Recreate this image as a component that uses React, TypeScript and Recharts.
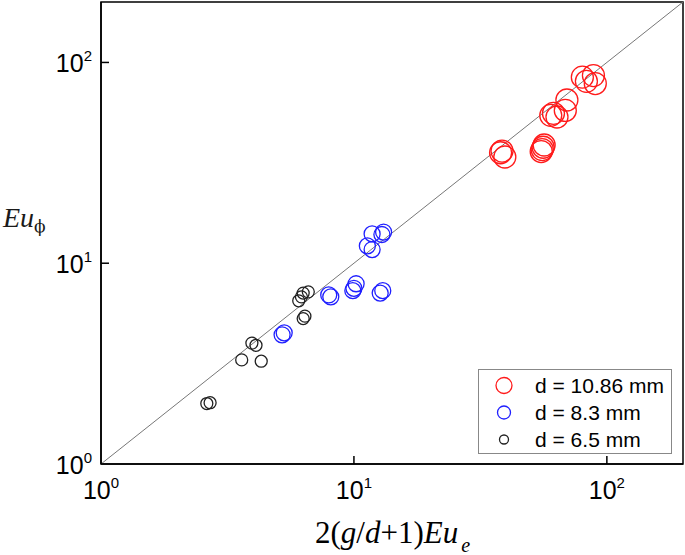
import { ScatterChart, Scatter, XAxis, YAxis, ReferenceLine, ReferenceArea } from 'recharts';

// [x, y] pairs, one array per particle diameter
const d1086: [number, number][] = [
  [38.0, 35.5], [39.5, 33.8], [38.5, 36.2],
  [56.5, 38.8], [56.0, 37.8], [55.5, 36.8], [55.0, 36.0],
  [60.0, 54.5], [61.5, 55.8], [63.5, 53.5], [68.5, 57.7], [69.5, 65.0],
  [80.0, 84.5], [83.0, 80.5], [88.5, 86.0], [90.0, 78.5],
];
const d83: [number, number][] = [
  [5.2, 4.4], [5.3, 4.5],
  [7.95, 6.95], [8.1, 6.8],
  [9.9, 7.3], [10.0, 7.5], [10.2, 7.9],
  [12.7, 7.1], [13.0, 7.3],
  [11.3, 12.2], [11.8, 11.7], [11.8, 14.0], [12.9, 13.9], [13.1, 14.3],
];
const d65: [number, number][] = [
  [2.62, 2.0], [2.7, 2.02],
  [3.6, 3.3], [4.3, 3.25], [3.95, 4.0], [4.1, 3.9],
  [6.3, 5.3], [6.4, 5.45],
  [6.05, 6.5], [6.2, 6.8], [6.3, 7.1], [6.6, 7.2],
];

const seriesNames = ['d = 10.86 mm', 'd = 8.3 mm', 'd = 6.5 mm'];
const seriesColors = ['#ff1a1a', '#1f1fff', '#222222'];
const markerRadius = [11, 8, 6];
const legendRadius = [8, 6.5, 4.5];

const decadeTicks = [1, 10, 100];
const axisDomain = [1, 200];

const toPoints = (arr: [number, number][]) => arr.map(([x, y]) => ({ x, y }));

const hollow = (color: string, r: number) => (props: any) => (
  <circle cx={props.cx} cy={props.cy} r={r} fill="none" stroke={color} strokeWidth={1.3} />
);

const tickFont = { fontFamily: 'Liberation Sans, Arial, sans-serif', fontSize: 25, fill: '#000' };
const serif = 'Liberation Serif, serif';

function XTick({ x, y, payload }: any) {
  const exp = Math.round(Math.log10(payload.value));
  return (
    <g>
      {exp > 0 && <line x1={x} y1={y} x2={x} y2={y - 8} stroke="#000" strokeWidth={1.5} />}
      <text x={x} y={y + 35} textAnchor="middle" {...tickFont}>
        10<tspan dy={-11} fontSize={15}>{exp}</tspan>
      </text>
    </g>
  );
}

function YTick({ x, y, payload }: any) {
  const exp = Math.round(Math.log10(payload.value));
  return (
    <g>
      {exp > 0 && <line x1={x} y1={y} x2={x + 8} y2={y} stroke="#000" strokeWidth={1.5} />}
      <text x={x - 9} y={y + 10} textAnchor="end" {...tickFont}>
        10<tspan dy={-11} fontSize={15}>{exp}</tspan>
      </text>
    </g>
  );
}

function LegendBox() {
  return (
    <div style={{ position: 'absolute', left: 478, top: 369, width: 194, height: 85, border: '1px solid #888', background: '#fff', boxSizing: 'border-box', paddingTop: 2 }}>
      {seriesNames.map((name, i) => (
        <div key={name} style={{ display: 'flex', alignItems: 'center', height: 27 }}>
          <svg width={56} height={27}>
            <circle cx={25} cy={13.5} r={legendRadius[i]} fill="none" stroke={seriesColors[i]} strokeWidth={1.3} />
          </svg>
          <span style={{ fontFamily: 'Liberation Sans, Arial, sans-serif', fontSize: 21, color: '#000' }}>{name}</span>
        </div>
      ))}
    </div>
  );
}

function AxisTitles() {
  return (
    <svg width={685} height={555} style={{ position: 'absolute', left: 0, top: 0, pointerEvents: 'none' }}>
      <text x={3} y={227} fontFamily={serif} fontSize={28} fontStyle="italic" fill="#1a1a1a">
        Eu<tspan dy={5} fontFamily="DejaVu Serif, serif" fontStyle="normal" fontSize={17}>ϕ</tspan>
      </text>
      <text x={315} y={543} fontFamily={serif} fontSize={31} fill="#000">
        2(<tspan fontStyle="italic">g</tspan>/<tspan fontStyle="italic">d</tspan>+1)<tspan fontStyle="italic">Eu</tspan>
        <tspan dx={3} dy={9} fontStyle="italic" fontSize={20}>e</tspan>
      </text>
    </svg>
  );
}

export default function App() {
  return (
    <div style={{ position: 'relative', width: 685, height: 555, background: '#fff' }}>
      <style>{'body{margin:0}'}</style>
      <ScatterChart width={685} height={555} margin={{ top: 2, right: 2, left: 0, bottom: 0 }}>
        <XAxis
          type="number"
          dataKey="x"
          scale="log"
          domain={axisDomain}
          ticks={decadeTicks}
          allowDataOverflow
          height={91}
          tickSize={0}
          tickMargin={0}
          tick={<XTick />}
          axisLine={{ stroke: '#000', strokeWidth: 1.5 }}
        />
        <YAxis
          type="number"
          dataKey="y"
          scale="log"
          domain={axisDomain}
          ticks={decadeTicks}
          allowDataOverflow
          width={101}
          tickSize={0}
          tickMargin={0}
          tick={<YTick />}
          axisLine={{ stroke: '#000', strokeWidth: 1.5 }}
        />
        <ReferenceArea x1={1} x2={200} y1={1} y2={200} fill="none" stroke="#000" strokeWidth={1.5} />
        <ReferenceLine segment={[{ x: 1, y: 1 }, { x: 200, y: 200 }]} stroke="#777" strokeWidth={1} />
        <Scatter name={seriesNames[0]} data={toPoints(d1086)} shape={hollow(seriesColors[0], markerRadius[0])} isAnimationActive={false} />
        <Scatter name={seriesNames[1]} data={toPoints(d83)} shape={hollow(seriesColors[1], markerRadius[1])} isAnimationActive={false} />
        <Scatter name={seriesNames[2]} data={toPoints(d65)} shape={hollow(seriesColors[2], markerRadius[2])} isAnimationActive={false} />
      </ScatterChart>
      <LegendBox />
      <AxisTitles />
    </div>
  );
}
